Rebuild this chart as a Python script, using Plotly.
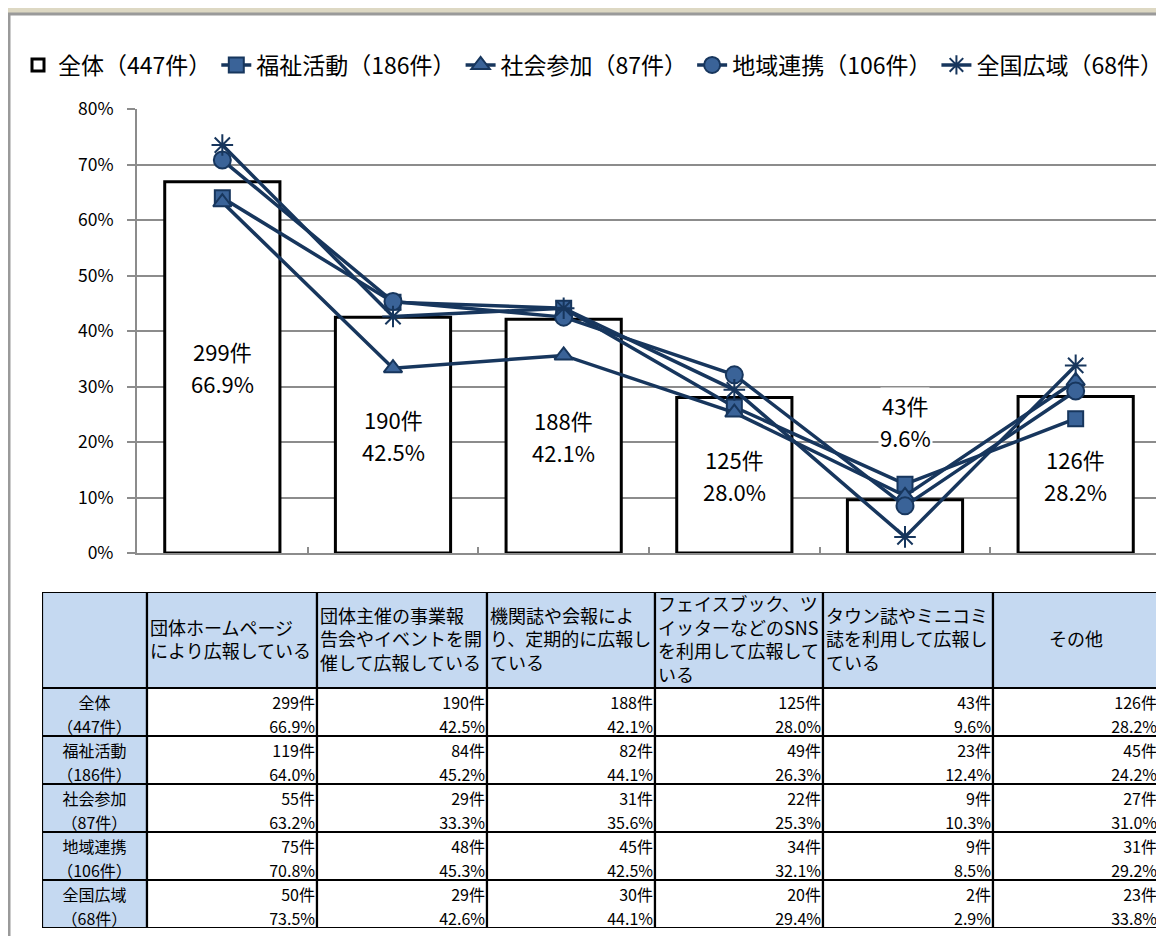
import plotly.graph_objects as go

W, H = 1164, 936

categories = [
    "団体ホームページにより広報している",
    "団体主催の事業報告会やイベントを開催して広報している",
    "機関誌や会報により、定期的に広報している",
    "フェイスブック、ツイッターなどのSNSを利用して広報している",
    "タウン誌やミニコミ誌を利用して広報している",
    "その他",
]
header_labels = [
    "団体ホームページ<br>により広報している",
    "団体主催の事業報<br>告会やイベントを開<br>催して広報している",
    "機関誌や会報によ<br>り、定期的に広報し<br>ている",
    "フェイスブック、ツ<br>イッターなどのSNS<br>を利用して広報して<br>いる",
    "タウン誌やミニコミ<br>誌を利用して広報し<br>ている",
    "その他",
]
groups = ["全体", "福祉活動", "社会参加", "地域連携", "全国広域"]
group_totals = [447, 186, 87, 106, 68]

count_all = [299, 190, 188, 125, 43, 126]
count_welfare = [119, 84, 82, 49, 23, 45]
count_social = [55, 29, 31, 22, 9, 27]
count_regional = [75, 48, 45, 34, 9, 31]
count_national = [50, 29, 30, 20, 2, 23]

pct_all = [66.9, 42.5, 42.1, 28.0, 9.6, 28.2]
pct_welfare = [64.0, 45.2, 44.1, 26.3, 12.4, 24.2]
pct_social = [63.2, 33.3, 35.6, 25.3, 10.3, 31.0]
pct_regional = [70.8, 45.3, 42.5, 32.1, 8.5, 29.2]
pct_national = [73.5, 42.6, 44.1, 29.4, 2.9, 33.8]

# table layout (pixel widths of columns, header = 2 row units)
col_widths = [105, 170, 170, 168, 168, 170, 166]
HEADER_UNITS = 2

FONT = "Noto Sans CJK JP"
NAVY = "#17365D"
MFILL = "#3A6398"
GRID = "#8C8C8C"
HDR = "#C5D9F1"
OFF = 8  # page offset of the figure inside the browser window


def px(x):
    return min(1.0, (x - OFF) / W)


def py(y):
    return max(0.0, 1 - (y - OFF) / H)


fig = go.Figure()

# ---------- chart ----------
fig.add_trace(go.Bar(
    x=categories, y=[v / 100 for v in pct_all],
    name=f"{groups[0]}（{group_totals[0]}件）",
    marker=dict(color="white", line=dict(color="black", width=3)),
    hoverinfo="skip",
))

line_series = [
    (pct_welfare, "square", 15, MFILL),
    (pct_social, "triangle-up", 16, MFILL),
    (pct_regional, "circle", 17, MFILL),
    (pct_national, "asterisk-open", 18, NAVY),
]
for i, (vals, sym, size, mcol) in enumerate(line_series):
    fig.add_trace(go.Scatter(
        x=categories, y=[v / 100 for v in vals],
        name=f"{groups[i + 1]}（{group_totals[i + 1]}件）",
        mode="lines+markers",
        line=dict(color=NAVY, width=3.5),
        marker=dict(symbol=sym, size=size, color=mcol,
                    line=dict(color=NAVY, width=2)),
        hoverinfo="skip",
    ))

for cat, c, v in zip(categories, count_all, pct_all):
    yc = v / 200 if v >= 20 else v / 100 + 0.142
    fig.add_annotation(x=cat, y=yc, text=f"{c}件", showarrow=False, yshift=16,
                       font=dict(size=22, color="black", family=FONT),
                       bgcolor="white", borderpad=1)
    fig.add_annotation(x=cat, y=yc, text=f"{v:.1f}%", showarrow=False, yshift=-16,
                       font=dict(size=22, color="black", family=FONT),
                       bgcolor="white", borderpad=1)

# ---------- table (drawn on its own axes) ----------
edges = [0]
for w in col_widths:
    edges.append(edges[-1] + w)
n_rows = len(groups)
total_units = HEADER_UNITS + n_rows

all_counts = [count_all, count_welfare, count_social, count_regional, count_national]
all_pcts = [pct_all, pct_welfare, pct_social, pct_regional, pct_national]

for j in range(len(col_widths)):
    cells = [(0, HEADER_UNITS, HDR)]
    for r in range(n_rows):
        cells.append((HEADER_UNITS + r, HEADER_UNITS + r + 1, HDR if j == 0 else "white"))
    for (y0, y1, col) in cells:
        fig.add_shape(type="rect", xref="x2", yref="y2",
                      x0=edges[j], x1=edges[j + 1], y0=y0, y1=y1,
                      fillcolor=col, line=dict(color="black", width=2.2), layer="below")

hx, hy, ht, hpos = [], [], [], []
for j, lab in enumerate(header_labels):
    if "<br>" in lab:
        hx.append(edges[j + 1] + 3)
        hpos.append("middle right")
    else:
        hx.append((edges[j + 1] + edges[j + 2]) / 2)
        hpos.append("middle center")
    hy.append(HEADER_UNITS / 2 + 0.04)
    ht.append(lab)
fig.add_trace(go.Scatter(x=hx, y=hy, text=ht, mode="text", textposition=hpos,
                         textfont=dict(size=18, color="black", family=FONT),
                         xaxis="x2", yaxis="y2", showlegend=False, hoverinfo="skip"))

rx, ry, rt = [], [], []
for r, (g, t) in enumerate(zip(groups, group_totals)):
    cx = (edges[0] + edges[1]) / 2
    rx += [cx, cx]
    ry += [HEADER_UNITS + r + 0.36, HEADER_UNITS + r + 0.86]
    rt += [g, f"（{t}件）"]
fig.add_trace(go.Scatter(x=rx, y=ry, text=rt, mode="text", textposition="middle center",
                         textfont=dict(size=16, color="black", family=FONT),
                         xaxis="x2", yaxis="y2", showlegend=False, hoverinfo="skip"))

dx, dy, dt = [], [], []
for r in range(n_rows):
    for j in range(len(categories)):
        xr = edges[j + 2] - 2
        dx += [xr, xr]
        dy += [HEADER_UNITS + r + 0.36, HEADER_UNITS + r + 0.86]
        dt += [f"{all_counts[r][j]}件", f"{all_pcts[r][j]:.1f}%"]
fig.add_trace(go.Scatter(x=dx, y=dy, text=dt, mode="text", textposition="middle left",
                         textfont=dict(size=16, color="black", family=FONT),
                         xaxis="x2", yaxis="y2", showlegend=False, hoverinfo="skip"))

# panel background
fig.add_shape(type="rect", xref="paper", yref="paper",
              x0=px(9), x1=1.05, y0=-0.05, y1=py(14),
              fillcolor="white", line=dict(color="#9A9A9A", width=3), layer="below")

fig.update_layout(
    width=W, height=H,
    margin=dict(l=0, r=0, t=0, b=0, autoexpand=False),
    paper_bgcolor="#DDD8C3",
    plot_bgcolor="rgba(0,0,0,0)",
    font=dict(family=FONT, color="black"),
    bargap=0.325,
    showlegend=True,
    legend=dict(orientation="h", x=px(18), xanchor="left", y=py(65), yanchor="middle",
                font=dict(size=23, family=FONT, color="black"),
                bgcolor="rgba(0,0,0,0)", traceorder="normal"),
    xaxis=dict(domain=[px(137), px(1161)], showticklabels=False, showgrid=False,
               showline=True, linecolor=GRID, linewidth=2, automargin=False,
               ticks="inside", tickson="boundaries", ticklen=6, tickwidth=2, tickcolor=GRID),
    yaxis=dict(domain=[py(553), py(109)], range=[0, 0.8], dtick=0.1,
               tickformat=".0%", showgrid=True, gridcolor=GRID, gridwidth=2,
               zeroline=False, showline=True, linecolor=GRID, linewidth=2, automargin=False,
               ticks="outside", ticklen=8, tickwidth=2, tickcolor=GRID,
               ticklabelstandoff=10,
               tickfont=dict(size=17.5, color="black", family=FONT)),
    xaxis2=dict(domain=[px(42), px(1159)], range=[edges[0], edges[-1]], anchor="y2",
                showgrid=False, zeroline=False, showticklabels=False, showline=False,
                automargin=False, fixedrange=True),
    yaxis2=dict(domain=[py(928), py(592)], range=[total_units, 0], anchor="x2",
                showgrid=False, zeroline=False, showticklabels=False, showline=False,
                automargin=False, fixedrange=True),
)

fig.write_html("out.html")
